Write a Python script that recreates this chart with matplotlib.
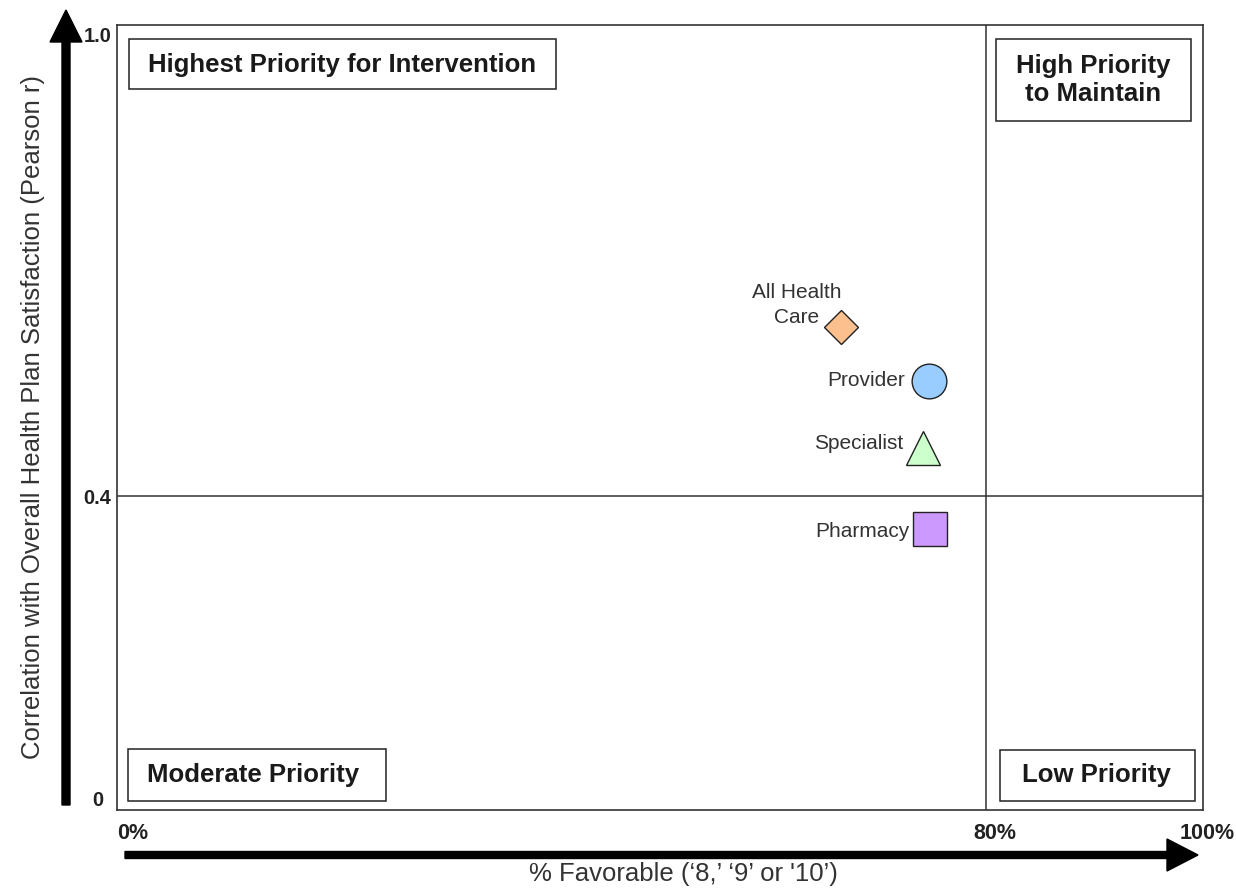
import matplotlib
matplotlib.use("Agg")
import matplotlib.pyplot as plt
from matplotlib.patches import FancyArrow, Rectangle
from matplotlib.transforms import IdentityTransform, ScaledTranslation

plt.rcParams['font.family'] = ['Liberation Sans', 'DejaVu Sans']

# data
names = ['All Health\nCare', 'Provider', 'Specialist', 'Pharmacy']
favorable = [66.7, 74.8, 74.2, 74.9]        # % favorable
correlation = [0.615, 0.546, 0.461, 0.358]  # Pearson r
markers = ['D', 'o', '^', 's']
sizes = [17, 25, 25, 24]
colors = ['#FBC08E', '#99CCFF', '#CCFFCC', '#CC99FF']
# label offsets (pixels) from the marker and alignment
offsets = [(-45, 22), (-24, 1), (-20, 5), (-21, -3)]
aligns = ['center', 'right', 'right', 'right']

x_cut, y_cut = 80, 0.4
xticks = [0, 80, 100]
xticklabels = ['0%', '80%', '100%']
yticks = [0, 0.4, 1.0]
yticklabels = ['0', '0.4', '1.0']

# quadrant boxes: text, centre (axes fraction), box (x0, y0, x1, y1) in axes fraction
quadrants = [
    ('Highest Priority for Intervention', (0.2076, 0.949), (0.011, 0.918, 0.4042, 0.982)),
    ('High Priority\nto Maintain', (0.8987, 0.930), (0.8094, 0.8777, 0.989, 0.982)),
    ('Moderate Priority', (0.1257, 0.0446), (0.0101, 0.0115, 0.2477, 0.0777)),
    ('Low Priority', (0.9020, 0.0446), (0.8130, 0.0115, 0.9926, 0.0764)),
]

W, H = 1236, 888
fig = plt.figure(figsize=(W / 100, H / 100), dpi=100)
ax = fig.add_axes([117 / W, 1 - 810 / H, 1086 / W, 785 / H])
ax.set_xlim(0, 100)
ax.set_ylim(0, 1.0)
for sp in ax.spines.values():
    sp.set_color('#333333')
    sp.set_linewidth(1.2)

ax.axvline(x_cut, color='#333333', lw=1.1)
ax.axhline(y_cut, color='#333333', lw=1.1)

for name, x, y, m, s, c, off, al in zip(names, favorable, correlation, markers,
                                         sizes, colors, offsets, aligns):
    ax.plot(x, y, ls='none', marker=m, markersize=s, markerfacecolor=c,
            markeredgecolor='#222222', markeredgewidth=1.0, zorder=3)
    ax.annotate(name, (x, y), xytext=off, textcoords='offset pixels',
                ha=al, va='center', fontsize=15, color='#333333',
                multialignment='center', linespacing=1.4)

for txt, (cx, cy), (x0, y0, x1, y1) in quadrants:
    ax.add_patch(Rectangle((x0, y0), x1 - x0, y1 - y0, transform=ax.transAxes,
                           fill=False, edgecolor='#222222', lw=1.1, zorder=2))
    ax.text(cx, cy, txt, transform=ax.transAxes, ha='center', va='center',
            fontsize=18.5, fontweight='bold', color='#1a1a1a', linespacing=1.25)

ax.set_xticks(xticks, xticklabels, fontsize=15.5, fontweight='bold', color='#222222')
ax.set_yticks(yticks, yticklabels, fontsize=14.5, fontweight='bold', color='#222222')
ax.tick_params(axis='both', length=0)
ax.tick_params(axis='x', pad=9)
ax.tick_params(axis='y', pad=4)
xl = ax.get_xticklabels()
xl[0].set_ha('left')
xl[1].set_transform(xl[1].get_transform() + ScaledTranslation(0.09, 0, fig.dpi_scale_trans))
xl[2].set_transform(xl[2].get_transform() + ScaledTranslation(0.04, 0, fig.dpi_scale_trans))
yl = ax.get_yticklabels()
yl[0].set_va('bottom')
yl[0].set_transform(yl[0].get_transform() + ScaledTranslation(-0.08, 0, fig.dpi_scale_trans))
yl[2].set_va('top')
yl[2].set_transform(yl[2].get_transform() + ScaledTranslation(0, -0.02, fig.dpi_scale_trans))

# axis arrows (pixel coordinates, origin bottom-left)
fig.add_artist(FancyArrow(66, H - 805, 0, 795, width=8, head_width=32, head_length=32,
                          length_includes_head=True, color='black',
                          transform=IdentityTransform()))
fig.add_artist(FancyArrow(125, H - 855, 1073, 0, width=7, head_width=32, head_length=31,
                          length_includes_head=True, color='black',
                          transform=IdentityTransform()))

fig.text(683 / W, 1 - 874 / H, '% Favorable (\u20188,\u2019 \u20189\u2019 or \'10\u2019)',
         ha='center', va='center', fontsize=18.5, color='#333333')
fig.text(33 / W, 1 - 417 / H,
         'Correlation with Overall Health Plan Satisfaction (Pearson r)',
         ha='center', va='center', rotation=90, fontsize=18.5, color='#333333')

fig.savefig('out.png', dpi=100)
